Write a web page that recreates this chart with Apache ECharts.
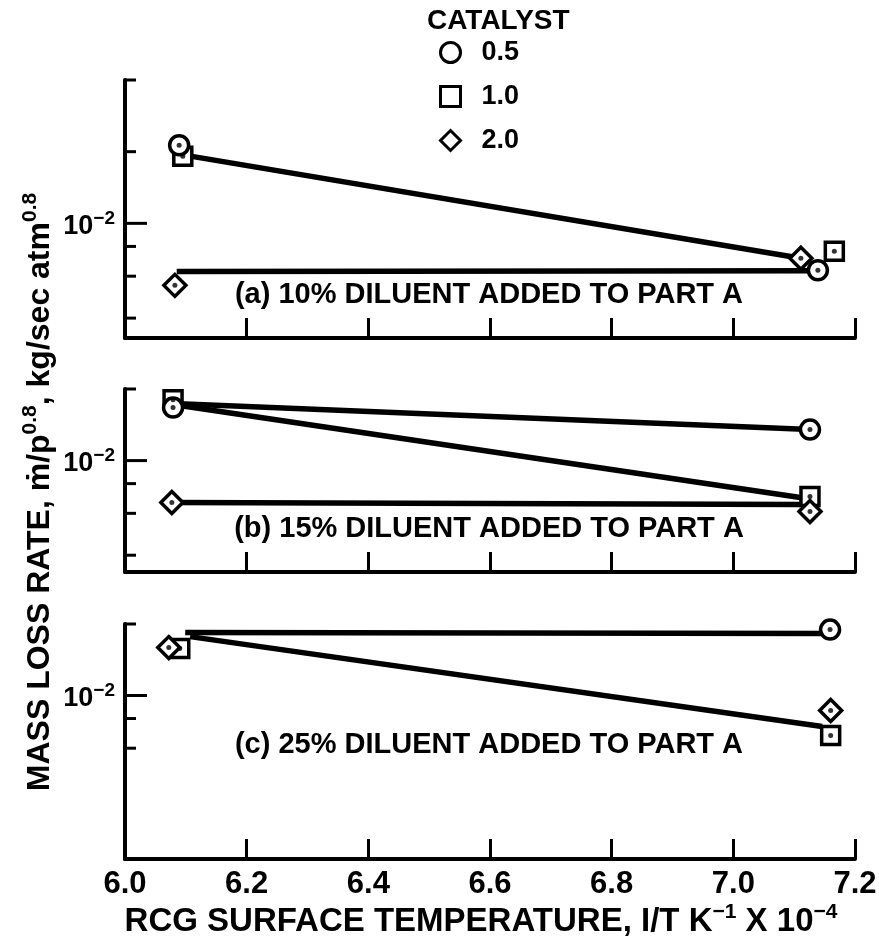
<!DOCTYPE html>
<html>
<head>
<meta charset="utf-8">
<script src="https://cdn.jsdelivr.net/npm/echarts@6/dist/echarts.min.js"></script>
<style>html,body{margin:0;padding:0;background:#fff}#chart{width:879px;height:944px}</style>
</head>
<body>
<div id="chart"></div>
<script>
// ---------- data ----------
const xMin = 6.0, xMax = 7.2, xStep = 0.2;
const yMin = [0.0033, 0.0034, 0.00205];
const yMax = [0.04, 0.02, 0.02];
const yTicks = [
  [0.04, 0.02, 0.01, 0.008, 0.006, 0.004],
  [0.02, 0.01, 0.008, 0.006, 0.004],
  [0.02, 0.01, 0.008, 0.006]
];
const yLabelValue = 0.01;
const panelLabels = [
  '(a) 10% DILUENT ADDED TO PART A',
  '(b) 15% DILUENT ADDED TO PART A',
  '(c) 25% DILUENT ADDED TO PART A'
];
const legendNames = ['0.5', '1.0', '2.0'];
// catalyst 0.5 (circle)
const cat05 = [
  [[6.089, 0.02127], [7.139, 0.00635]],
  [[6.079, 0.0167], [7.126, 0.0135]],
  [[6.104, 0.02007], [7.159, 0.01894]]
];
// catalyst 1.0 (square)
const cat10 = [
  [[6.095, 0.01912], [7.166, 0.00763]],
  [[6.079, 0.01804], [7.126, 0.00706]],
  [[6.090, 0.01576], [7.160, 0.00679]]
];
// catalyst 2.0 (diamond)
const cat20 = [
  [[6.082, 0.00549], [7.111, 0.00713]],
  [[6.077, 0.00666], [7.126, 0.00611]],
  [[6.072, 0.01591], [7.160, 0.00865]]
];
// hand-drawn fit lines per panel
const fitLines = [
  [ [[6.100, 0.0193], [7.111, 0.00713]], [[6.085, 0.00628], [7.139, 0.00632]] ],
  [ [[6.079, 0.01736], [7.126, 0.0135]], [[6.079, 0.0172], [7.110, 0.00699]], [[6.077, 0.00666], [7.110, 0.00653]] ],
  [ [[6.099, 0.0184], [7.159, 0.01822]], [[6.107, 0.0177], [7.146, 0.00741]] ]
];

// ---------- chart ----------
const FONT = "'Liberation Sans', Arial, Helvetica, sans-serif";
const chart = echarts.init(document.getElementById('chart'), null, {renderer: 'canvas'});

const gridTops = [80, 389, 624];
const gridHeights = [258, 183, 235];

const grids = [], xAxes = [], yAxes = [], series = [];
for (let i = 0; i < 3; i++) {
  grids.push({left: 125, right: 24, top: gridTops[i], height: gridHeights[i], containLabel: false, outerBoundsMode: 'none'});
  xAxes.push({
    type: 'value', gridIndex: i, min: xMin, max: xMax, interval: xStep,
    axisLine: {show: true, onZero: false, lineStyle: {color: '#000', width: 4}},
    axisTick: {show: true, inside: true, length: 20, lineStyle: {color: '#000', width: 3}},
    axisLabel: {show: i === 2, margin: 10, color: '#000', fontSize: 31, fontWeight: 'bold', fontFamily: FONT,
      formatter: v => v.toFixed(1)},
    splitLine: {show: false}
  });
  yAxes.push({
    type: 'log', logBase: 10, gridIndex: i, min: yMin[i], max: yMax[i],
    axisLine: {show: true, onZero: false, lineStyle: {color: '#000', width: 4}},
    axisTick: {show: false}, axisLabel: {show: false}, splitLine: {show: false}, minorTick: {show: false}
  });

  fitLines[i].forEach(seg => series.push({
    type: 'line', xAxisIndex: i, yAxisIndex: i, data: seg, symbol: 'none', z: 2, silent: true,
    lineStyle: {color: '#000', width: 5.5, cap: 'butt'}
  }));

  const mk = (name, data, symbol, size) => ({
    name, type: 'scatter', xAxisIndex: i, yAxisIndex: i, data, symbol, symbolSize: size, z: 3,
    itemStyle: {color: '#fff', borderColor: '#000', borderWidth: 3.5, opacity: 1}
  });
  series.push(mk('1.0', cat10[i], 'rect', 18));
  series.push(mk('0.5', cat05[i], 'circle', 19));
  series.push(mk('2.0', cat20[i], 'diamond', 22));
  series.push({
    name: 'dot', type: 'scatter', xAxisIndex: i, yAxisIndex: i, z: 4, silent: true,
    data: cat10[i].concat(cat05[i], cat20[i]), symbol: 'circle', symbolSize: 5,
    itemStyle: {color: '#000'}
  });

  series.push({
    type: 'custom', xAxisIndex: i, yAxisIndex: i, z: 5, silent: true,
    data: yTicks[i].map(v => [xMin, v]),
    renderItem: function (params, api) {
      const v = api.value(1);
      const p = api.coord([api.value(0), v]);
      const major = Math.abs(v - yLabelValue) < 1e-12;
      const len = major ? 22 : 11;
      const children = [{
        type: 'line', shape: {x1: p[0], y1: p[1], x2: p[0] + len, y2: p[1]},
        style: {stroke: '#000', lineWidth: 3}
      }];
      if (major) {
        children.push({
          type: 'text', x: p[0] - 10, y: p[1] + 3,
          style: {
            text: '{b|10}{s|\u22122}', align: 'right', verticalAlign: 'middle', fill: '#000',
            rich: {
              b: {fontSize: 27, fontWeight: 'bold', fontFamily: FONT, lineHeight: 34, fill: '#000'},
              s: {fontSize: 19, fontWeight: 'bold', fontFamily: FONT, lineHeight: 19, verticalAlign: 'top', fill: '#000'}
            }
          }
        });
      }
      return {type: 'group', children};
    }
  });
}

const supRich = {
  s: {fontSize: 21, fontWeight: 'bold', fontFamily: FONT, lineHeight: 21, verticalAlign: 'top', fill: '#000'}
};

const graphics = [
  {type: 'text', x: 427, y: 21, style: {text: 'CATALYST', font: "bold 28px " + FONT, fill: '#000', align: 'left', verticalAlign: 'middle'}},
  {type: 'text', x: 481, y: 922, style: {
    text: 'RCG SURFACE TEMPERATURE, I/T K{s|\u22121} X 10{s|\u22124}', font: "bold 33px " + FONT, fill: '#000',
    align: 'center', verticalAlign: 'middle', lineHeight: 40, rich: supRich}},
  {type: 'text', x: 40, y: 492, rotation: Math.PI / 2, style: {
    text: 'MASS LOSS RATE, \u1E41/p{s|0.8}, kg/sec atm{s|0.8}', font: "bold 32px " + FONT, fill: '#000',
    align: 'center', verticalAlign: 'middle', lineHeight: 40, rich: supRich}}
];
const labelY = [295, 529, 745];
panelLabels.forEach((t, i) => graphics.push({
  type: 'text', x: 489, y: labelY[i],
  style: {text: t, font: "bold 29px " + FONT, fill: '#000', align: 'center', verticalAlign: 'middle'}
}));

chart.setOption({
  backgroundColor: '#fff',
  animation: false,
  grid: grids,
  xAxis: xAxes,
  yAxis: yAxes,
  legend: {
    data: [{name: '0.5', icon: 'circle'}, {name: '1.0', icon: 'rect'}, {name: '2.0', icon: 'diamond'}],
    orient: 'vertical', left: 439, top: 39, padding: 0, itemWidth: 20, itemHeight: 20, itemGap: 17,
    selectedMode: false,
    itemStyle: {color: '#fff', borderColor: '#000', borderWidth: 3},
    textStyle: {fontSize: 27, fontWeight: 'bold', color: '#000', fontFamily: FONT, lineHeight: 20, padding: [0, 0, 0, 16]}
  },
  graphic: graphics,
  series: series
});
</script>
</body>
</html>
